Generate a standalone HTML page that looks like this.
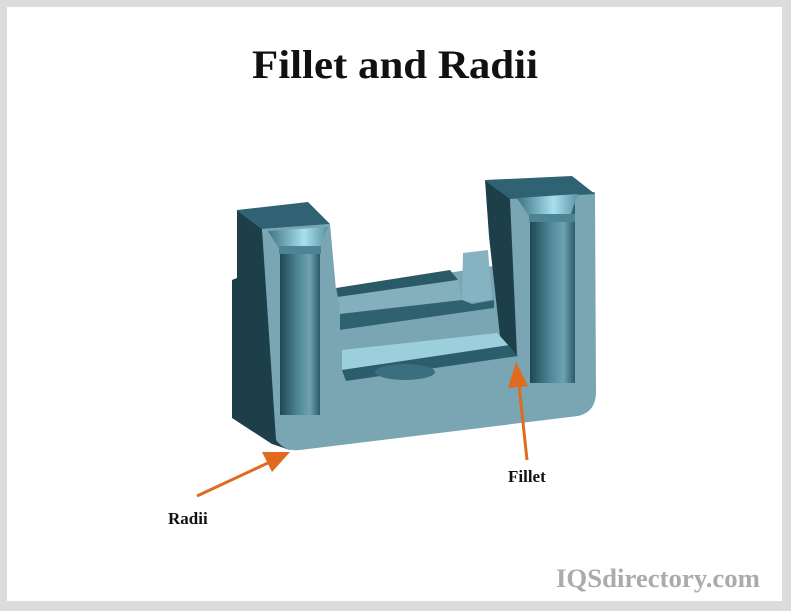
<!DOCTYPE html>
<html><head><meta charset="utf-8"><style>
html,body{margin:0;padding:0;background:#dcdcdc;}
svg{display:block}
</style></head><body>
<svg width="791" height="611" viewBox="0 0 791 611" xmlns="http://www.w3.org/2000/svg">
<defs>
<linearGradient id="cyl" x1="0" x2="1" y1="0" y2="0">
<stop offset="0" stop-color="#1f4754"/><stop offset="0.45" stop-color="#4f8797"/><stop offset="0.75" stop-color="#6ea2b1"/><stop offset="1" stop-color="#2a5a68"/>
</linearGradient>
<linearGradient id="cap" x1="0" x2="1" y1="0" y2="0">
<stop offset="0" stop-color="#3c7282"/><stop offset="0.6" stop-color="#a9e0ee"/><stop offset="1" stop-color="#5c93a3"/>
</linearGradient>
</defs>
<rect x="7" y="7" width="775" height="594" fill="#ffffff"/>
<text x="395" y="78" text-anchor="middle" font-family="Liberation Serif, serif" font-weight="bold" font-size="40" textLength="286" lengthAdjust="spacingAndGlyphs" fill="#111">Fillet and Radii</text>

<!-- left dark side -->
<polygon points="237,210 262,229 290,450 272,444 232,418 232,280 237,278" fill="#1c3f4a"/>
<!-- front face -->
<path d="M262,229 L330,224 L336,290 L500,265 L488,190 L595,192 L596,392 Q596,412 578,416 L300,450 Q285,452 276,440 Z" fill="#7aa6b4"/>
<!-- left top -->
<polygon points="237,210 308,202 330,224 262,229" fill="#2f6272"/>
<!-- right top -->
<polygon points="485,180 572,176 595,194 510,199" fill="#2f6272"/>
<!-- channel interior -->
<polygon points="336,288 450,270 458,280 338,297" fill="#2a5968"/>
<polygon points="338,297 458,280 462,300 340,314" fill="#84b0be"/>
<polygon points="463,253 488,250 492,300 470,302 462,300" fill="#86b3c1"/>
<polygon points="340,314 462,300 472,304 494,300 494,308 340,330" fill="#2f6171"/>
<polygon points="340,330 494,308 500,333 342,350" fill="#7aa6b4"/>
<polygon points="342,350 497,333 510,345 342,370" fill="#9ccfdc"/>
<polygon points="342,370 510,345 518,356 346,381" fill="#2c5d6c"/>
<ellipse cx="405" cy="372" rx="30" ry="8" fill="#3b6f7f"/>
<!-- right block dark inner side -->
<polygon points="485,180 510,199 517,355 500,336 489,236" fill="#1c3f4a"/>
<!-- left cylinder -->
<rect x="280" y="245" width="40" height="170" fill="url(#cyl)"/>
<polygon points="268,231 328,227 320,248 280,250" fill="url(#cap)"/>
<rect x="279" y="246" width="42" height="8" fill="#4c8494"/>
<!-- right cylinder -->
<rect x="530" y="198" width="45" height="185" fill="url(#cyl)"/>
<polygon points="517,198 578,194 570,216 530,218" fill="url(#cap)"/>
<rect x="529" y="214" width="46" height="8" fill="#4c8494"/>

<!-- arrows -->
<g stroke="#e06a1e" stroke-width="3" fill="#e06a1e">
<line x1="197" y1="496" x2="270" y2="462"/>
<line x1="527" y1="460" x2="519" y2="385"/>
</g>
<polygon points="290,452 262,452 272,472" fill="#e06a1e"/>
<polygon points="516,362 508,388 528,386" fill="#e06a1e"/>

<text x="508" y="482" font-family="Liberation Serif, serif" font-weight="bold" font-size="17" fill="#111">Fillet</text>
<text x="168" y="524" font-family="Liberation Serif, serif" font-weight="bold" font-size="17" fill="#111">Radii</text>
<text x="760" y="587" text-anchor="end" font-family="Liberation Serif, serif" font-weight="bold" font-size="26" textLength="204" lengthAdjust="spacingAndGlyphs" fill="#ababab">IQSdirectory.com</text>
</svg>
</body></html>
